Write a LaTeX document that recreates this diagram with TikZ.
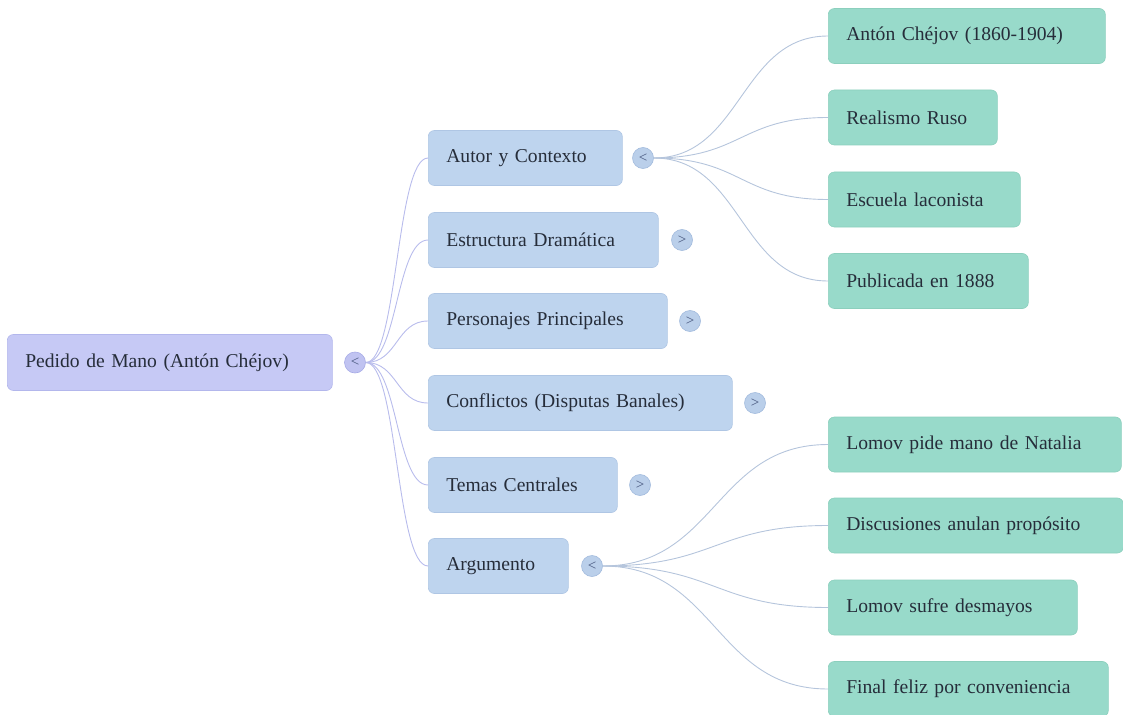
\documentclass[tikz,border=0pt]{standalone}
\usepackage{fontspec}
\setmainfont{Liberation Serif}
\definecolor{rootfill}{HTML}{C6C9F5}
\definecolor{rootdraw}{HTML}{B3B7EC}
\definecolor{lvfill}{HTML}{BED4EE}
\definecolor{lvdraw}{HTML}{AFC6E4}
\definecolor{tealfill}{HTML}{98DACA}
\definecolor{tealdraw}{HTML}{8CCFBD}
\definecolor{txt}{HTML}{262D3A}
\definecolor{rootline}{HTML}{B8BCEC}
\definecolor{subline}{HTML}{B5C5DC}
\definecolor{rtog}{HTML}{C0C3F1}
\definecolor{rtogd}{HTML}{A7ABE6}
\definecolor{ltog}{HTML}{BACFEA}
\definecolor{ltogd}{HTML}{A2BBDD}
\definecolor{togtxt}{HTML}{46557C}
\begin{document}
\begin{tikzpicture}[x=1pt,y=-1pt,
  box/.style={anchor=west, rounded corners=6pt, minimum height=55pt, inner xsep=18pt, inner ysep=0pt,
    align=left, text=txt, font=\fontsize{19.6}{24}\selectfont, line width=0.6pt},
  rootbox/.style={box, fill=rootfill, draw=rootdraw, minimum height=56pt},
  lvbox/.style={box, fill=lvfill, draw=lvdraw},
  tealbox/.style={box, fill=tealfill, draw=tealdraw},
  tog/.style={circle, minimum size=21pt, inner sep=0pt, line width=0.6pt, text=togtxt,
    font=\fontsize{15}{15}\selectfont},
  rtogst/.style={tog, fill=rtog, draw=rtogd},
  ltogst/.style={tog, fill=ltog, draw=ltogd},
  c1/.style={draw=rootline, line width=0.9pt},
  c2/.style={draw=subline, line width=0.9pt}
]
\useasboundingbox (0,0) rectangle (1123,714);

% root
\node[rootbox, text width=289pt] (rt) at (7,362.5) {Pedido de Mano (Antón Chéjov)};
\node[rtogst] (rtt) at (355,362.5) {<};

% level 1
\node[lvbox, text width=158pt] (a) at (428,158) {Autor y Contexto};
\node[lvbox, text width=194pt] (b) at (428,240) {Estructura Dramática};
\node[lvbox, text width=203pt] (c) at (428,321) {Personajes Principales};
\node[lvbox, text width=268pt] (d) at (428,403) {Conflictos (Disputas Banales)};
\node[lvbox, text width=153pt] (e) at (428,485) {Temas Centrales};
\node[lvbox, text width=104pt] (f) at (428,566) {Argumento};

\node[ltogst] (at) at (643,158) {<};
\node[ltogst] (bt) at (682,240) {>};
\node[ltogst] (ct) at (690,321) {>};
\node[ltogst] (dt) at (755,403) {>};
\node[ltogst] (et) at (640,485) {>};
\node[ltogst] (ft) at (592,566) {<};

% level 2
\node[tealbox, text width=241pt] (a1) at (828,36) {Antón Chéjov (1860-1904)};
\node[tealbox, text width=133pt] (a2) at (828,117.5) {Realismo Ruso};
\node[tealbox, text width=156pt] (a3) at (828,199.5) {Escuela laconista};
\node[tealbox, text width=164pt] (a4) at (828,281) {Publicada en 1888};

\node[tealbox, text width=257pt] (f1) at (828,444.5) {Lomov pide mano de Natalia};
\node[tealbox, text width=259pt] (f2) at (828,525.5) {Discusiones anulan propósito};
\node[tealbox, text width=213pt] (f3) at (828,607.5) {Lomov sufre desmayos};
\node[tealbox, text width=244pt] (f4) at (828,689) {Final feliz por conveniencia};

% connectors
\foreach \n in {a,b,c,d,e,f}{
  \draw[c1] (rtt.east) .. controls +(32,0) and +(-32,0) .. (\n.west);
}
\foreach \n in {a1,a2,a3,a4}{
  \draw[c2] (at.east) .. controls +(88,0) and +(-88,0) .. (\n.west);
}
\foreach \n in {f1,f2,f3,f4}{
  \draw[c2] (ft.east) .. controls +(113,0) and +(-113,0) .. (\n.west);
}
\end{tikzpicture}
\end{document}
